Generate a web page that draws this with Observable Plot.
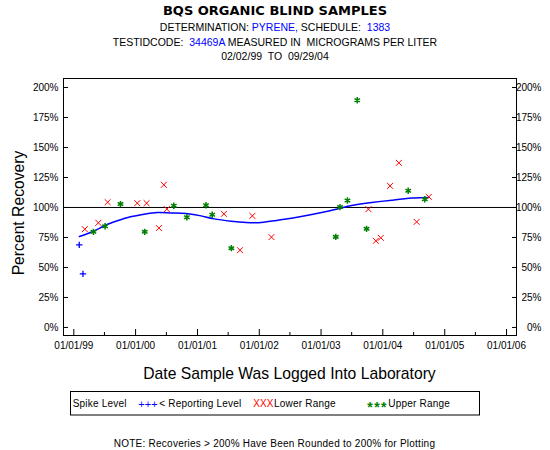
<!DOCTYPE html>
<html><head><meta charset="utf-8">
<script src="https://cdn.jsdelivr.net/npm/d3@7"></script>
<script src="https://cdn.jsdelivr.net/npm/@observablehq/plot@0.6"></script>
<style>
body{margin:0;background:#fff;}
#wrap{position:relative;width:550px;height:450px;background:#fff;}
#wrap svg{position:absolute;left:0;top:0;}
#wrap text{white-space:pre;}
</style></head><body><div id="wrap"></div>
<script>
// ---- data ----
const spikeDates  = ["1999-02-02","1999-02-24"];
const spikeValues = [68.8, 44.7];

const lowerDates  = ["1999-03-07","1999-05-26","1999-07-20","2000-01-11","2000-03-06","2000-05-18","2000-06-16","2000-07-04",
                     "2001-06-06","2001-09-09","2001-11-21","2002-03-14","2003-10-08","2003-11-21","2003-12-20","2004-02-13",
                     "2004-04-05","2004-07-19","2004-09-29"];
const lowerValues = [81.9, 87.2, 104.4, 103.6, 103.6, 82.8, 118.9, 98.6,
                     94.7, 64.4, 93.0, 75.3, 98.6, 72.2, 74.7, 118.0,
                     137.2, 88.0, 108.9];

const upperDates  = ["1999-04-27","1999-07-05","1999-10-04","2000-02-24","2000-08-14","2000-10-30","2001-02-20","2001-03-29",
                     "2001-07-20","2003-03-29","2003-04-23","2003-06-06","2003-08-03","2003-09-27","2004-05-30","2004-09-05"];
const upperValues = [79.7, 84.4, 102.8, 79.7, 101.4, 91.9, 101.9, 93.9,
                     66.1, 75.5, 100.3, 105.8, 189.4, 82.2, 113.9, 106.9];

const smoothDates  = ["1999-02-03","1999-04-28","1999-07-07","1999-09-15","1999-12-02","2000-02-20","2000-05-10","2000-07-28",
                      "2000-10-25","2001-01-22","2001-04-09","2001-07-19","2001-10-16","2002-01-13","2002-04-12","2002-07-10",
                      "2002-10-07","2003-01-05","2003-03-24","2003-07-01","2003-10-28","2004-02-24","2004-06-22","2004-09-29"];
const smoothValues = [75.8, 80.2, 85.2, 88.9, 92.2, 94.4, 95.8, 95.5,
                      95.0, 93.0, 90.5, 88.6, 87.5, 87.5, 89.2, 91.1,
                      93.3, 95.8, 98.3, 101.7, 104.2, 106.1, 107.8, 108.3];

const yTicks = [0, 25, 50, 75, 100, 125, 150, 175, 200];
const xMajorTicks = ["1999-01-01","2000-01-01","2001-01-01","2002-01-01","2003-01-01","2004-01-01","2005-01-01","2006-01-01"];
const xMinorTicks = ["1999-07-01","2000-07-01","2001-07-01","2002-07-01","2003-07-01","2004-07-01","2005-07-01"];
const xDomain = ["1998-11-01","2006-03-01"];
const yDomain = [-6.7, 207.5];
const referenceLevel = [100];

// ---- build ----
const P = d3.utcParse("%Y-%m-%d");
const zip = (ds, vs) => ds.map((d, i) => ({date: P(d), value: vs[i]}));
const spike = zip(spikeDates, spikeValues);
const lower = zip(lowerDates, lowerValues);
const upper = zip(upperDates, upperValues);
const smooth = zip(smoothDates, smoothValues);
const FONT = "Arial, 'Liberation Sans', sans-serif";
const pct = d => d + "%";

const chart = Plot.plot({
  width: 550, height: 360,
  marginLeft: 63, marginRight: 34, marginTop: 78, marginBottom: 25,
  style: {fontFamily: FONT, fontSize: "10px", background: "transparent", color: "black"},
  x: {type: "utc", domain: xDomain.map(P)},
  y: {domain: yDomain},
  marks: [
    Plot.frame({stroke: "black"}),
    Plot.ruleY(referenceLevel, {stroke: "black"}),
    Plot.axisX(xMajorTicks.map(P), {anchor: "bottom", tickSize: -6, tickPadding: 12, tickFormat: d3.utcFormat("%m/%d/%y"), label: null}),
    Plot.axisX(xMinorTicks.map(P), {anchor: "bottom", tickSize: -3, tickFormat: () => "", label: null}),
    Plot.axisY(yTicks, {anchor: "left", tickSize: -5, tickPadding: 10, tickFormat: pct, label: null}),
    Plot.axisY(yTicks, {anchor: "right", tickSize: -5, tickFormat: () => "", label: null}),
    Plot.text(yTicks, {y: d => d, text: pct, frameAnchor: "right", dx: 25, textAnchor: "end", fill: "black"}),
    Plot.line(smooth, {x: "date", y: "value", stroke: "#0000ff", strokeWidth: 1.5, curve: "natural"}),
    Plot.dot(spike, {x: "date", y: "value", symbol: "plus", r: 2.2, stroke: "#0000ff", strokeWidth: 1.3}),
    Plot.dot(lower, {x: "date", y: "value", symbol: "times", r: 2.8, stroke: "#ff0000", strokeWidth: 1}),
    Plot.dot(upper, {x: "date", y: "value", symbol: "asterisk", r: 3.0, stroke: "#008000", strokeWidth: 1.5})
  ]
});
const wrap = document.getElementById("wrap");
wrap.appendChild(chart);

// ---- titles, axis titles, legend, note ----
const ov = d3.select(wrap).append("svg").attr("width", 550).attr("height", 450)
  .style("font-family", FONT).style("pointer-events", "none");

function line(y, parts, size, opts = {}) {
  const t = ov.append("text").attr("x", opts.x ?? 275).attr("y", y)
    .attr("xml:space", "preserve")
    .attr("text-anchor", opts.anchor ?? "middle").attr("font-size", size)
    .style("letter-spacing", (opts.ls ?? 0) + "px");
  if (opts.family) t.attr("font-family", opts.family);
  if (opts.weight) t.attr("font-weight", opts.weight);
  parts.forEach(([s, c]) => t.append("tspan").attr("fill", c).text(s));
  return t;
}
const B = "#0000ff";
line(14.8, [["BQS ORGANIC BLIND SAMPLES", "black"]], 13, {family: "'DejaVu Sans', sans-serif", weight: "bold"});
line(30.6, [["DETERMINATION: ", "black"], ["PYRENE,", B], [" SCHEDULE:  ", "black"], ["1383", B]], 10.5);
line(45.8, [["TESTIDCODE:  ", "black"], ["34469A", B], [" MEASURED IN  MICROGRAMS PER LITER", "black"]], 10.5);
line(59.9, [["02/02/99  TO  09/29/04", "black"]], 10.5);

line(378.5, [["Date Sample Was Logged Into Laboratory", "black"]], 15.7, {x: 289.5});
ov.append("text").attr("transform", "translate(23.5,213) rotate(-90)")
  .attr("text-anchor", "middle").attr("font-size", 15.7).attr("fill", "black").text("Percent Recovery");

ov.append("rect").attr("x", 70.5).attr("y", 391.5).attr("width", 409).attr("height", 23.5)
  .attr("fill", "none").attr("stroke", "black");
const leg = [
  [72.7, "Spike Level", "black"],
  [159.3, "< Reporting Level", "black"],
  [274, "Lower Range", "black"],
  [388.3, "Upper Range", "black"]
];
leg.forEach(([x, s, c]) => line(407.3, [[s, c]], 10, {x, anchor: "start", ls: 0.2}));
line(407.8, [["+++", B]], 11, {x: 138.3, anchor: "start", ls: 0});
line(407.3, [["XXX", "#ff0000"]], 10, {x: 253.3, anchor: "start"});
line(412, [["***", "#008000"]], 14, {x: 367.3, anchor: "start", ls: 1.4, weight: "bold"});

line(446.7, [["NOTE: Recoveries > 200% Have Been Rounded to 200% for Plotting", "black"]], 10, {x: 274.5, ls: 0.25});
</script></body></html>
